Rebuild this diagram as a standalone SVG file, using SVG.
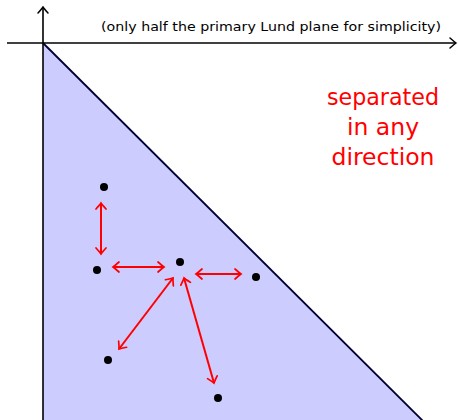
<svg xmlns="http://www.w3.org/2000/svg" width="458" height="420" viewBox="0 0 458 420">
<defs>
<style>
.axis{stroke:#000;stroke-width:1.6;fill:none}
.dot{fill:#000}
.conn{stroke:#ff0000;stroke-width:2;fill:none;marker-start:url(#ah);marker-end:url(#ah)}
.lbl{font-family:"DejaVu Sans","Liberation Sans",sans-serif}
</style>
<marker id="ah" viewBox="-8 -7 10 14" markerWidth="10" markerHeight="14" refX="0" refY="0" orient="auto-start-reverse" markerUnits="userSpaceOnUse">
<path d="M-6,-5 Q-1.5,-1 0,0 Q-1.5,1 -6,5" fill="none" stroke="#ff0000" stroke-width="1.7" stroke-linecap="round"/>
</marker>
<marker id="axh" viewBox="-8 -7 10 14" markerWidth="10" markerHeight="14" refX="0" refY="0" orient="auto" markerUnits="userSpaceOnUse">
<path d="M-6,-5 Q-1.5,-1 0,0 Q-1.5,1 -6,5" fill="none" stroke="#000" stroke-width="1.5" stroke-linecap="round"/>
</marker>
</defs>
<g id="plane">
<polygon points="43,43 423,421 43,421" fill="#ccccff"/>
<line x1="43" y1="43" x2="423" y2="421" stroke="#000033" stroke-width="1.8"/>
</g>
<g id="axes">
<line class="axis" x1="43" y1="420" x2="43" y2="7" marker-end="url(#axh)"/>
<line class="axis" x1="7" y1="43" x2="456" y2="43" marker-end="url(#axh)"/>
</g>
<text class="lbl" x="271" y="31" font-size="12.5" text-anchor="middle" textLength="340" lengthAdjust="spacingAndGlyphs">(only half the primary Lund plane for simplicity)</text>
<g id="caption" class="lbl" fill="#ff0000" font-size="23.5" text-anchor="middle">
<text x="383" y="105" textLength="112" lengthAdjust="spacingAndGlyphs">separated</text>
<text x="383" y="135">in any</text>
<text x="383" y="165">direction</text>
</g>
<g id="connectors">
<line class="conn" x1="101" y1="203" x2="101" y2="254"/>
<line class="conn" x1="113" y1="267" x2="164" y2="267"/>
<line class="conn" x1="196" y1="274" x2="241" y2="274"/>
<line class="conn" x1="173" y1="278" x2="119" y2="349"/>
<line class="conn" x1="184" y1="278" x2="214" y2="383"/>
</g>
<g id="n1"><circle class="dot" cx="104" cy="187" r="4"/></g>
<g id="n2"><circle class="dot" cx="97" cy="270" r="4"/></g>
<g id="n3"><circle class="dot" cx="180" cy="262" r="4"/></g>
<g id="n4"><circle class="dot" cx="256" cy="277" r="4"/></g>
<g id="n5"><circle class="dot" cx="108" cy="360" r="4"/></g>
<g id="n6"><circle class="dot" cx="218" cy="398" r="4"/></g>
</svg>
